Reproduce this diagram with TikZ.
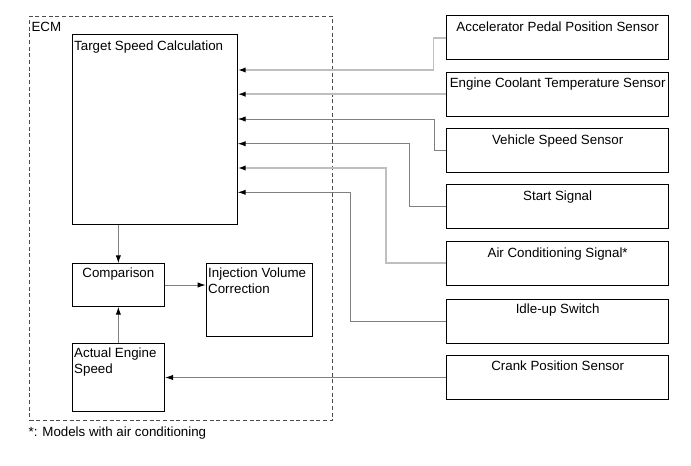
\documentclass[tikz,border=0pt]{standalone}
\usepackage{fontspec}
\setmainfont{Liberation Sans}
\usetikzlibrary{arrows.meta,calc}

\newlength{\px}\setlength{\px}{0.75pt}
\newlength{\blkpad}\setlength{\blkpad}{4.2pt}

\tikzset{
	blk/.style n args={3}{draw, line width=0.75pt, anchor=north west, inner xsep=1.5pt, inner ysep=0pt,
		execute at begin node={\begin{minipage}[t][#2\px][t]{\dimexpr#1\px-3pt\relax}\vspace*{\blkpad}#3},
		execute at end node={\end{minipage}}},
	pad/.code={\setlength{\blkpad}{#1}},
	ecmline/.style={draw=black!70, dash pattern=on 3pt off 2pt},
	sig/.style={draw=black!50, line width=0.75pt, -{Latex[color=black,length=6pt,width=4pt]}},
	lite/.style={sig, draw=black!25, line width=1.2pt}
}

\begin{document}
\begin{tikzpicture}[x=0.75pt, y=-0.75pt, font=\fontsize{10}{12}\selectfont]
	\useasboundingbox[fill=white] (0,0) rectangle (691,465);

	% ECM side
	\node[blk={302.7}{404.3}{\raggedright}, ecmline] (ecm) at (29,15.7) {ECM};
	\node[blk={165}{189.7}{\raggedright}] (tgt) at (71.7,34.3) {Target Speed Calculation};
	\node[blk={92.3}{42.4}{\centering}, pad=2.8pt] (cmp) at (71.7,263.3) {Comparison};
	\node[blk={106}{73}{\raggedright}, pad=2.8pt] (inj) at (205.7,263.3) {Injection Volume Correction};
	\node[blk={92.3}{67.7}{\raggedright}, pad=2.8pt] (act) at (71.7,343.3) {Actual Engine Speed};

	% sensors and signals
	\node[blk={222.3}{44}{\centering}] (acc) at (446,15.3) {Accelerator Pedal Position Sensor};
	\node[blk={222.3}{44}{\centering}] (ect) at (446,71.7) {Engine Coolant Temperature Sensor};
	\node[blk={222.3}{44}{\centering}] (vss) at (446,128.3) {Vehicle Speed Sensor};
	\node[blk={222.3}{44}{\centering}] (sta) at (446,184.3) {Start Signal};
	\node[blk={222.3}{44}{\centering}, pad=5pt] (ac) at (446,240.7) {Air Conditioning Signal*};
	\node[blk={222.3}{44}{\centering}, pad=3.6pt] (idle) at (446,298.7) {Idle-up Switch};
	\node[blk={222.3}{44}{\centering}] (ckp) at (446,355) {Crank Position Sensor};

	\draw[lite] (acc.west) -- ++(-12.7,0) |- ($(tgt.north east)+(0,35.7)$);
	\draw[lite] (ect.west) -- (ect.west -| tgt.east);
	\draw[sig] (vss.west) -- ++(-12,0) |- ($(tgt.north east)+(0,84.7)$);
	\draw[sig] (sta.west) -- ++(-36.7,0) |- ($(tgt.north east)+(0,109.4)$);
	\draw[lite] (ac.west) -- ++(-60,0) |- ($(tgt.north east)+(0,133.7)$);
	\draw[sig] (idle.west) -- ++(-95.3,0) |- ($(tgt.north east)+(0,158)$);
	\draw[sig] (ckp.west) -- (ckp.west -| act.east);

	\draw[sig] (tgt.south -| cmp.north) -- (cmp.north);
	\draw[sig] (cmp.east) -- (cmp.east -| inj.west);
	\draw[sig] (act.north) -- (cmp.south);

	\node[anchor=base west, inner sep=0pt] (note) at (28.3,436.5) {*: Models with air conditioning};
\end{tikzpicture}
\end{document}
